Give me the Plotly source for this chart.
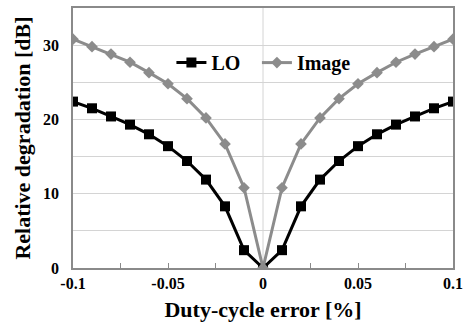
import plotly.graph_objects as go

# Duty-cycle error sweep [%]
duty_error = [-0.1, -0.09, -0.08, -0.07, -0.06, -0.05, -0.04, -0.03, -0.02, -0.01, 0.0,
              0.01, 0.02, 0.03, 0.04, 0.05, 0.06, 0.07, 0.08, 0.09, 0.1]

# Relative degradation [dB]
lo_deg = [22.4, 21.5, 20.4, 19.3, 18.0, 16.4, 14.4, 11.9, 8.3, 2.4, 0.0,
          2.4, 8.3, 11.9, 14.4, 16.4, 18.0, 19.3, 20.4, 21.5, 22.4]
image_deg = [30.8, 29.8, 28.8, 27.7, 26.3, 24.8, 22.8, 20.2, 16.7, 10.8, 0.0,
             10.8, 16.7, 20.2, 22.8, 24.8, 26.3, 27.7, 28.8, 29.8, 30.8]

x_tickvals = [-0.1, -0.05, 0, 0.05, 0.1]
x_ticktext = ["-0.1", "-0.05", "0", "0.05", "0.1"]
y_tickvals = [0, 10, 20, 30]

FONT = "Liberation Serif, Times New Roman, serif"
GRID = "#d4d4d4"
FRAME = "#8a8a8a"

fig = go.Figure()
fig.add_trace(go.Scatter(
    x=duty_error, y=lo_deg, name="LO", mode="lines+markers",
    line=dict(color="black", width=3),
    marker=dict(symbol="square", size=10, color="black"),
    legend="legend",
))
fig.add_trace(go.Scatter(
    x=duty_error, y=image_deg, name="Image", mode="lines+markers",
    line=dict(color="#8c8c8c", width=3),
    marker=dict(symbol="diamond", size=9, color="#8c8c8c"),
    legend="legend2",
))

fig.add_vline(x=0, line=dict(color=GRID, width=1), layer="below")

legend_style = dict(
    orientation="h", y=0.79, xanchor="left", yanchor="middle",
    bgcolor="rgba(0,0,0,0)", font=dict(size=20, weight="bold"),
    itemwidth=30,
)

fig.update_layout(
    width=469, height=328,
    margin=dict(l=73, r=10, t=6, b=60),
    paper_bgcolor="white", plot_bgcolor="white",
    font=dict(family=FONT, color="black", size=16, weight="bold"),
    showlegend=True,
    legend=dict(x=0.259, **legend_style),
    legend2=dict(x=0.484, **legend_style),
    xaxis=dict(
        range=[-0.1, 0.1], tickvals=x_tickvals, ticktext=x_ticktext,
        showgrid=False, zeroline=False,
        showline=True, linecolor=FRAME, linewidth=1.5, mirror=True,
        ticks="inside", ticklen=5, tickcolor=FRAME,
        minor=dict(dtick=0.025, tick0=0, ticks="inside", ticklen=5, tickcolor=FRAME),
        ticklabeloverflow="allow",
        title=dict(text="Duty-cycle error [%]", font=dict(size=22, weight="bold"), standoff=11),
        tickfont=dict(size=16, weight="bold"),
    ),
    yaxis=dict(
        range=[0, 35], tickvals=y_tickvals,
        showgrid=True, gridcolor=GRID, gridwidth=1, zeroline=False,
        minor=dict(dtick=5, tick0=0, showgrid=True, gridcolor=GRID, gridwidth=1),
        showline=True, linecolor=FRAME, linewidth=1.5, mirror=True,
        ticks="", ticklabelstandoff=9,
        title=dict(text="Relative degradation [dB]", font=dict(size=22, weight="bold"), standoff=6),
        tickfont=dict(size=16, weight="bold"),
    ),
)

fig.write_html("out.html")
